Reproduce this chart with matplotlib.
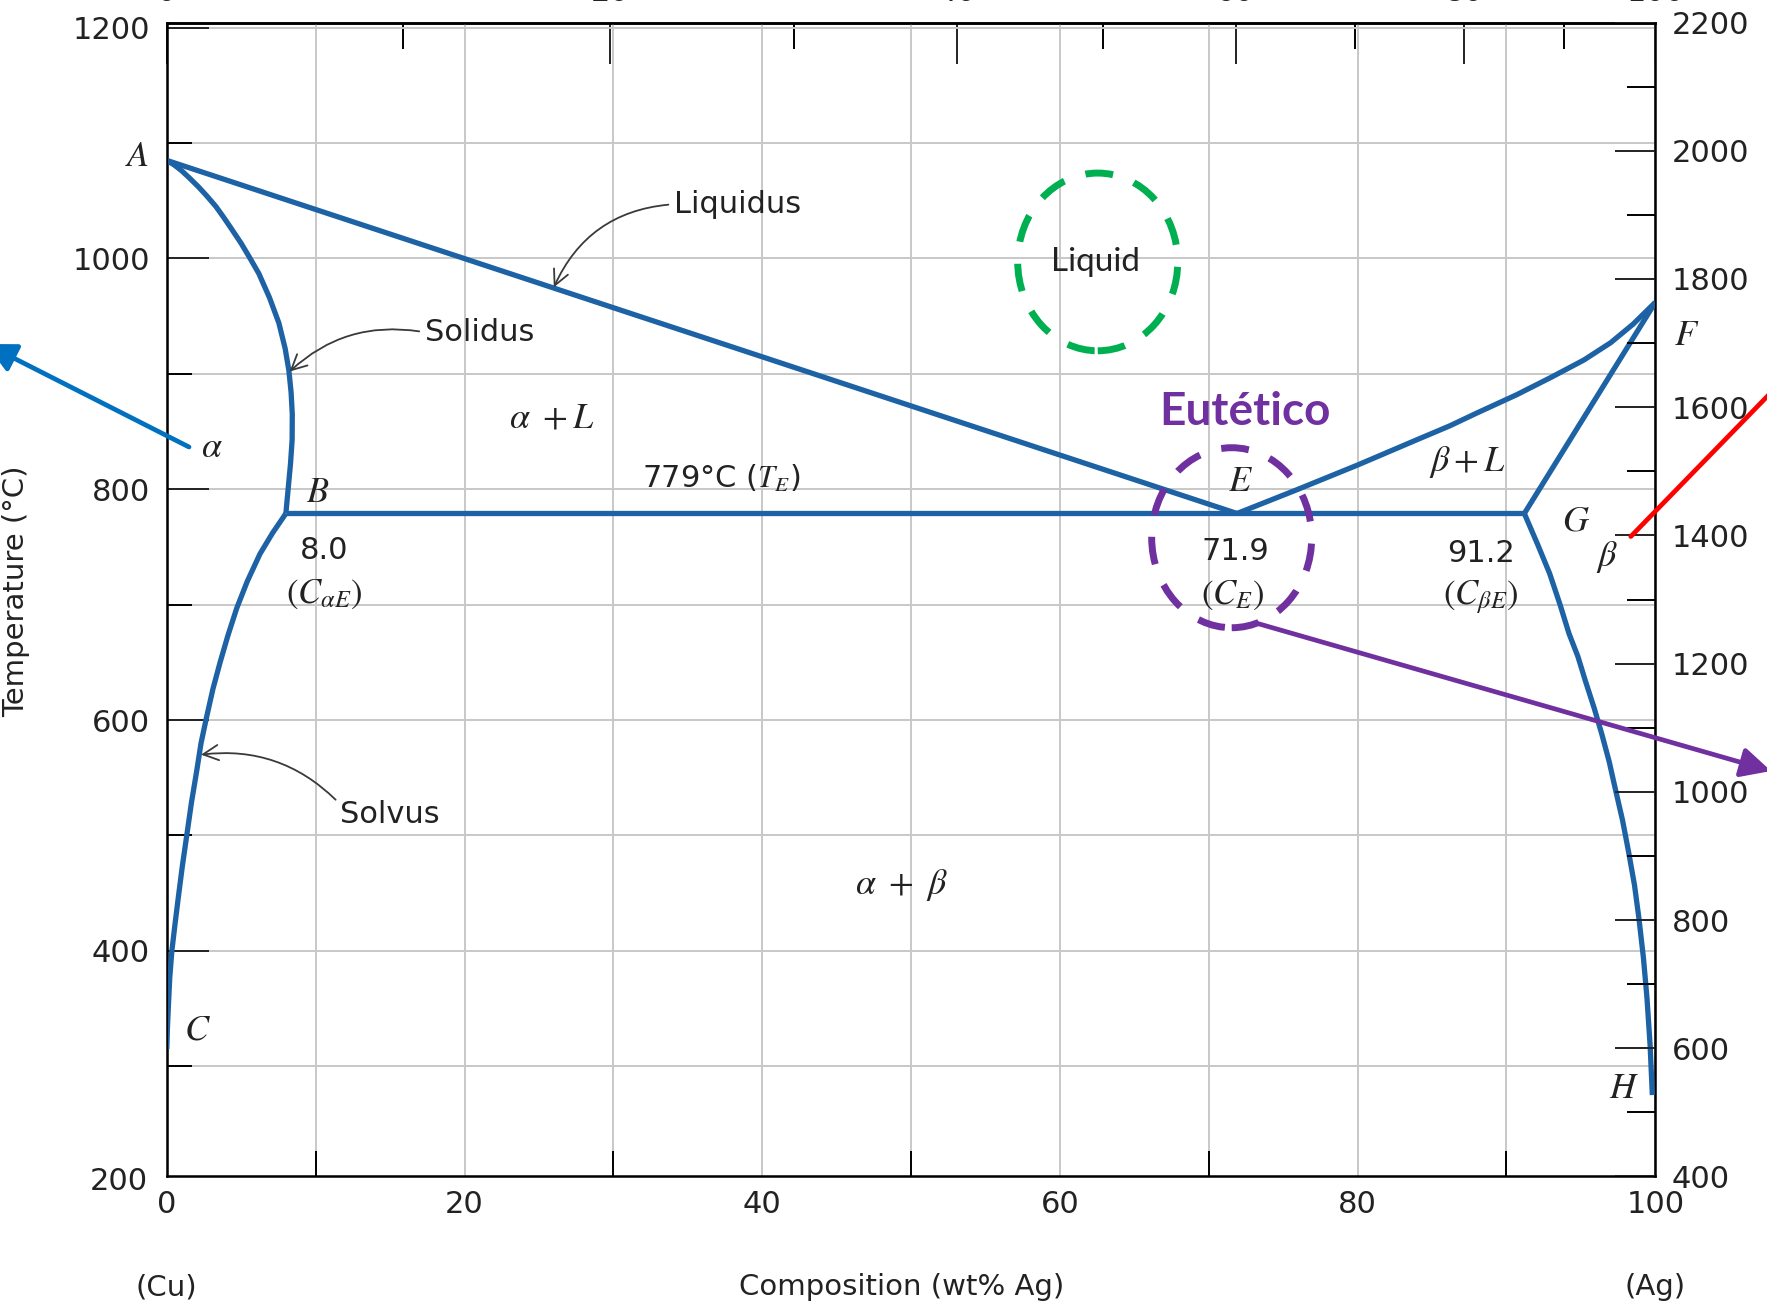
import matplotlib
matplotlib.use('Agg')
import matplotlib.pyplot as plt
import numpy as np
from matplotlib.patches import Ellipse, FancyArrowPatch

plt.rcParams['font.family'] = 'DejaVu Sans'
plt.rcParams['mathtext.fontset'] = 'stix'

# Cu-Ag phase boundaries, composition in wt% Ag, temperature in degC
liquidus_cu_x = [0.0, 71.9]
liquidus_cu_t = [1085, 779]
liquidus_ag_x = [71.9, 76.0, 80.0, 84.0, 86.2, 88.0, 90.7, 93.0, 95.2, 97.0, 98.5, 100.0]
liquidus_ag_t = [779, 800, 821, 843, 855, 866, 882, 897, 912, 927, 943, 962]
solidus_cu_x = [0.0, 0.5, 1.0, 1.5, 2.13, 2.7, 3.3, 3.8, 4.38, 5.0, 5.6, 6.18, 6.9, 7.53, 7.95,
                8.2, 8.35, 8.43, 8.42, 8.31, 8.15, 8.0]
solidus_cu_t = [1085, 1081, 1076, 1070, 1062, 1054, 1045, 1036, 1025, 1013, 1000, 987, 966, 944,
                922, 903, 884, 865, 843, 822, 800, 779]
solidus_ag_x = [91.2, 100.0]
solidus_ag_t = [779, 962]
solvus_cu_x = [8.0, 7.1, 6.26, 5.4, 4.7, 4.1, 3.58, 3.1, 2.68, 2.3, 2.01, 1.65, 1.34, 1.05, 0.78,
               0.55, 0.34, 0.2, 0.11, 0.04, 0.0]
solvus_cu_t = [779, 762, 744, 720, 697, 673, 650, 627, 603, 580, 556, 528, 500, 474, 447, 423,
               400, 377, 353, 333, 315]
solvus_ag_x = [91.2, 92.1, 92.9, 93.6, 94.2, 94.8, 95.3, 95.9, 96.4, 96.9, 97.3, 97.8, 98.2, 98.6,
               98.9, 99.2, 99.44, 99.65, 99.8]
solvus_ag_t = [779, 752, 727, 700, 675, 655, 634, 610, 588, 564, 541, 513, 486, 457, 428, 394,
               359, 318, 275]
eutectic_x = [8.0, 91.2]
eutectic_t = [779, 779]

# right axis in degF, top axis in at% Ag
f_range = [400, 2200]
left_ticks = [400, 600, 800, 1000, 1200]
bottom_ticks = [0, 20, 40, 60, 80, 100]
top_ticks = [0, 20, 40, 60, 80, 100]

M_AG = 107.87
M_CU = 63.55

def wt_to_at(w):
    w = np.asarray(w, dtype=float)
    a = w / M_AG
    b = (100 - w) / M_CU
    return 100 * a / (a + b)

def at_to_wt(p):
    p = np.asarray(p, dtype=float)
    a = p * M_AG
    b = (100 - p) * M_CU
    return 100 * a / (a + b)

def f_to_c(f):
    return (f - 32) / 1.8

line_col = '#1d62a5'
txt_col = '#222222'
arrow_col = '#3a3a3a'

fig = plt.figure(figsize=(17.67, 13.11), dpi=100)
ax = fig.add_axes([0.0944, 0.1026, 0.8424, 0.8802])
ax.set_xlim(0, 100)
ax.set_ylim(f_to_c(f_range[0]), f_to_c(f_range[1]))

# grid
ax.set_xticks(bottom_ticks)
ax.set_xticks(np.arange(10, 100, 20), minor=True)
ax.set_yticks(left_ticks)
ax.set_yticks(np.arange(300, 1200, 200), minor=True)
ax.grid(which='both', color='#c8c8c8', lw=1.4)
ax.set_axisbelow(True)

ax.tick_params(axis='y', which='major', direction='in', length=30, width=1.4, pad=12, labelsize=22, colors=txt_col)
ax.tick_params(axis='y', which='minor', direction='in', length=18, width=1.4)
ax.tick_params(axis='x', which='major', direction='in', length=0, pad=10, labelsize=22, colors=txt_col)
ax.tick_params(axis='x', which='minor', direction='in', length=18, width=1.4)
for s in ax.spines.values():
    s.set_linewidth(1.8)
ax.text(-1.3, 200, '200', ha='right', va='center', fontsize=22, color=txt_col, clip_on=False)

# right axis (degF)
ax2 = ax.twinx()
ax2.set_ylim(*f_range)
ax2.set_yticks(np.arange(400, 2201, 200))
ax2.set_yticks(np.arange(500, 2200, 200), minor=True)
ax2.tick_params(axis='y', which='major', direction='in', length=29, width=1.4, pad=12, labelsize=22, colors=txt_col)
ax2.tick_params(axis='y', which='minor', direction='in', length=20, width=1.4)

# top axis (at% Ag), labels run off the top edge
secx = ax.secondary_xaxis('top', functions=(wt_to_at, at_to_wt))
secx.set_xticks(top_ticks)
secx.set_xticks(np.arange(10, 100, 20), minor=True)
secx.tick_params(which='major', direction='in', length=29.5, width=1.4, pad=11, labelsize=22, colors=txt_col)
secx.tick_params(which='minor', direction='in', length=18.7, width=1.4)
secx.spines['top'].set_linewidth(1.8)

# phase boundaries
lw = 3.8
for xs, ts in [(liquidus_cu_x, liquidus_cu_t), (liquidus_ag_x, liquidus_ag_t),
               (solidus_cu_x, solidus_cu_t), (solidus_ag_x, solidus_ag_t),
               (solvus_cu_x, solvus_cu_t), (solvus_ag_x, solvus_ag_t),
               (eutectic_x, eutectic_t)]:
    ax.plot(xs, ts, color=line_col, lw=lw, solid_joinstyle='round', solid_capstyle='butt', zorder=3)

# point letters and phase labels
it = dict(fontsize=26, color=txt_col, ha='center', va='center', clip_on=False)
ax.text(-1.97, 1089, r'$A$', **it)
ax.text(10.14, 798, r'$B$', **it)
ax.text(2.04, 332, r'$C$', **it)
ax.text(72.14, 807, r'$E$', **it)
ax.text(102.1, 934, r'$F$', **it)
ax.text(94.7, 773, r'$G$', **it)
ax.text(97.9, 281, r'$H$', **it)
ax.text(3.03, 837, r'$\alpha$', **it)
ax.text(96.75, 741, r'$\beta$', **it)
ax.text(25.9, 862, r'$\alpha\ +L$', **it)
ax.text(87.36, 824, r'$\beta + L$', **it)
ax.text(49.36, 457, r'$\alpha\ +\ \beta$', **it)

st = dict(fontsize=22, color=txt_col, ha='center', va='center')
ax.text(37.25, 809, '779°C ($T_E$)', **st)
ax.text(10.6, 747, '8.0', **st)
ax.text(71.77, 746, '71.9', **st)
ax.text(88.26, 744, '91.2', **st)
sub = dict(fontsize=25, color=txt_col, ha='center', va='center')
ax.text(10.6, 709, r'$(C_{\alpha E})$', **sub)
ax.text(71.61, 708, r'$(C_{E})$', **sub)
ax.text(88.26, 707, r'$(C_{\beta E})$', **sub)

# boundary names with curved pointers
ap = dict(arrowstyle='->,head_length=0.5,head_width=0.25', color=arrow_col, lw=1.3, shrinkA=2, shrinkB=0)
ax.annotate('Liquidus', xy=(26.0, 975), xytext=(34.07, 1047), fontsize=22, color=txt_col,
            ha='left', va='center',
            arrowprops=dict(ap, connectionstyle='arc3,rad=0.3', relpos=(0, 0.5)))
ax.annotate('Solidus', xy=(8.25, 902), xytext=(17.33, 936), fontsize=22, color=txt_col,
            ha='left', va='center',
            arrowprops=dict(ap, connectionstyle='arc3,rad=0.25', relpos=(0, 0.5)))
ax.annotate('Solvus', xy=(2.3, 570), xytext=(11.66, 518), fontsize=22, color=txt_col,
            ha='left', va='center',
            arrowprops=dict(ap, connectionstyle='arc3,rad=0.25', relpos=(0, 0.85)))

# highlighted regions
ax.add_patch(Ellipse((62.54, 997), 10.75, 154, fill=False, ec='#00b050', lw=5,
                     ls=(0, (4, 3.2)), zorder=4))
ax.text(62.37, 997, 'Liquid', fontsize=24, family='Lato', color=txt_col, ha='center', va='center')
ax.add_patch(Ellipse((71.54, 758), 10.75, 156, fill=False, ec='#7030a0', lw=5,
                     ls=(0, (4, 3.2)), zorder=4))
ax.text(72.45, 867, 'Eutético', fontsize=33, family='Lato', fontweight='bold',
        color='#7030a0', ha='center', va='center')

# pointer arrows in figure pixels (top-left origin)
W, H = 1767, 1311

def fp(x, y):
    return (x / W, 1 - y / H)

for start, end, col, style in [((189, 447), (-14, 344), '#0070c0', '-|>,head_length=0.9,head_width=0.45'),
                               ((1256.6, 623.2), (1771, 771), '#7030a0', '-|>,head_length=0.9,head_width=0.45'),
                               ((1630.8, 536.5), (1790, 373), '#ff0000', '-')]:
    fig.add_artist(FancyArrowPatch(fp(*start), fp(*end), transform=fig.transFigure,
                                   arrowstyle=style, mutation_scale=20, color=col,
                                   lw=3.4, shrinkA=0, shrinkB=0))

# axis titles
ax.set_ylabel('Temperature (°C)', fontsize=21, color=txt_col)
ax.yaxis.set_label_coords(-0.0916, 0.507)
ax.text(0.4936, -0.0958, 'Composition (wt% Ag)', transform=ax.transAxes, fontsize=21,
        color=txt_col, ha='center', va='center')
ax.text(0, -0.0958, '(Cu)', transform=ax.transAxes, fontsize=21, color=txt_col, ha='center', va='center')
ax.text(1, -0.0958, '(Ag)', transform=ax.transAxes, fontsize=21, color=txt_col, ha='center', va='center')

fig.savefig('out.png', dpi=100)
